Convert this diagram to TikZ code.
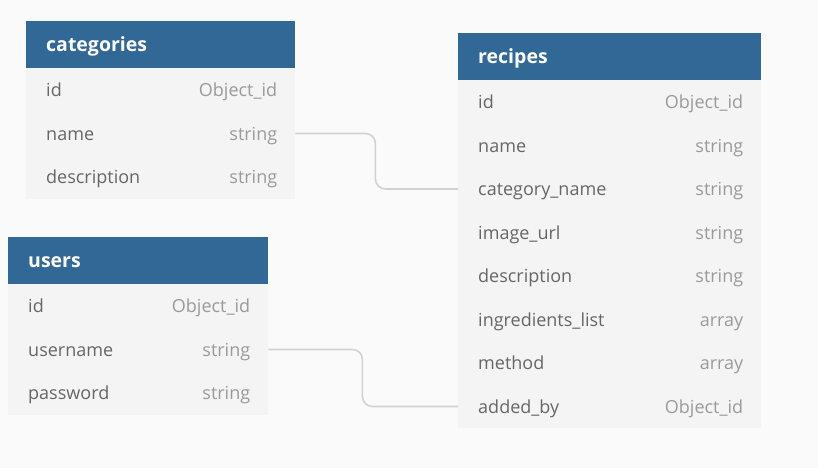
\documentclass[tikz,border=0pt]{standalone}
\usepackage{fontspec}
\setmainfont{Open Sans}
\usetikzlibrary{positioning}
\definecolor{headblue}{HTML}{316896}
\definecolor{pagebg}{HTML}{FAFAFA}
\definecolor{rowfill}{HTML}{F4F4F4}
\definecolor{fieldgray}{HTML}{666666}
\definecolor{typegray}{HTML}{9A9A9A}
\definecolor{linkgray}{HTML}{D2D2D2}

\begin{document}
\begin{tikzpicture}[x=1pt, y=-1pt,
  head/.style={anchor=north west, fill=headblue, text=white, minimum height=47pt,
    text height=16.5pt, text depth=2.5pt,
    inner xsep=20pt, inner ysep=0pt, align=left, font=\fontsize{19.5}{23}\selectfont\bfseries},
  row/.style={anchor=north west, fill=rowfill, text=fieldgray, minimum height=43.5pt,
    text height=17pt, text depth=3.5pt,
    inner xsep=20pt, inner ysep=0pt, align=left, font=\fontsize{18}{21}\selectfont},
  type/.style={anchor=base east, text=typegray, inner sep=0pt, font=\fontsize{18}{21}\selectfont},
  link/.style={draw=linkgray, line width=1.6pt, rounded corners=10pt}]
\fill[pagebg] (0,0) rectangle (818,468);
\useasboundingbox (0,0) rectangle (818,468);

% categories
\node[head, text width=229pt] (cat) at (26,21) {categories};
\foreach \n/\f/\t [count=\i] in {id/id/Object\_id, name/name/string, desc/description/string}
{
  \node[row, text width=229pt] (cat-\n) at (26,{68+43.5*(\i-1)}) {\f};
  \node[type] (cat-\n-type) at ([xshift=-18pt]cat-\n.base east) {\t};
}

% users
\node[head, text width=220pt] (usr) at (8,237) {users};
\foreach \n/\f/\t [count=\i] in {id/id/Object\_id, uname/username/string, pass/password/string}
{
  \node[row, text width=220pt] (usr-\n) at (8,{284+43.5*(\i-1)}) {\f};
  \node[type] (usr-\n-type) at ([xshift=-18pt]usr-\n.base east) {\t};
}

% recipes
\node[head, text width=263pt] (rec) at (458,33) {recipes};
\foreach \n/\f/\t [count=\i] in {id/id/Object\_id, name/name/string, cat/category\_name/string,
    img/image\_url/string, desc/description/string, ingr/ingredients\_list/array,
    meth/method/array, by/added\_by/Object\_id}
{
  \node[row, text width=263pt] (rec-\n) at (458,{80+43.5*(\i-1)}) {\f};
  \node[type] (rec-\n-type) at ([xshift=-18pt]rec-\n.base east) {\t};
}

% references
\draw[link] (cat-name.east) -- ++(80,0) |- (rec-cat.west);
\draw[link] (usr-uname.east) -- ++(94,0) |- (rec-by.west);
\end{tikzpicture}
\end{document}
